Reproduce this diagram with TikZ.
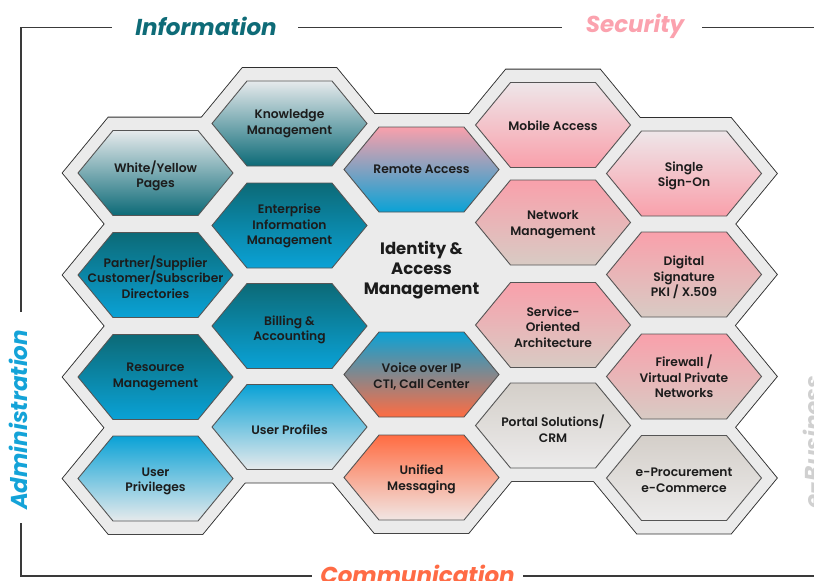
\documentclass[tikz,border=0pt]{standalone}
\usepackage{fontspec}
\setmainfont{Poppins}
\newfontfamily\hexfont{Poppins SemiBold}
\definecolor{teal}{HTML}{0C6A77}
\definecolor{blu}{HTML}{0AA2D6}
\definecolor{lgray}{HTML}{E6EAEC}
\definecolor{pink}{HTML}{F9A0AB}
\definecolor{beige}{HTML}{D8CBC4}
\definecolor{orng}{HTML}{FF6C42}
\definecolor{stone}{HTML}{D4CFC9}
\definecolor{pale}{HTML}{ECEBEB}
\definecolor{palepink}{HTML}{EEE6E9}
\definecolor{paleorng}{HTML}{F1E6E4}
\definecolor{bggray}{HTML}{EBEBEB}
\definecolor{outline}{HTML}{2E2E2E}
\definecolor{hexedge}{HTML}{555555}
\definecolor{txt}{HTML}{1C1C1C}
\definecolor{framecol}{HTML}{3A3A3A}
\definecolor{infocol}{HTML}{0E6B77}
\definecolor{seccol}{HTML}{FBA2AE}
\definecolor{comcol}{HTML}{FF6B45}
\definecolor{admcol}{HTML}{14A3D8}
\definecolor{buscol}{HTML}{D0D0D0}
% [text options]{name}{x}{y}{top colour}{bottom colour}{text}
\newcommand\Hexcell[7][]{%
  \path[hexline, top color=#5, bottom color=#6] (#3,#4) ++(-77.5,0) -- ++(35,-42.5) -- ++(85,0) -- ++(35,42.5) -- ++(-35,42.5) -- ++(-85,0) -- cycle;
  \node[hextext,#1] (#2) at (#3,#4) {#7};}
\begin{document}
\begin{tikzpicture}[x=1pt,y=-1pt,
  hexline/.style={draw=hexedge, line width=0.9pt, line join=miter},
  hextext/.style={align=center, text=txt, font=\hexfont\fontsize{12.3}{15.5}\selectfont, inner sep=0pt},
  titletext/.style={font=\bfseries\itshape\fontsize{23}{23}\selectfont, inner sep=0pt},
  framestroke/.style={draw=framecol, line width=1.1pt}]
\useasboundingbox (0,0) rectangle (814,581);
% frame lines
\draw[framestroke] (21,312) -- (21,27.3) -- (112,27.3);
\draw[framestroke] (298,27.3) -- (562,27.3);
\draw[framestroke] (702,27.3) -- (814,27.3);
\draw[framestroke] (21,523) -- (21,576) -- (312,576);
\draw[framestroke] (523,576) -- (814,576);
% titles
\node[titletext, text=infocol] (info) at (206,26) {Information};
\node[titletext, text=seccol] (sec) at (635,26) {Security};
\node[titletext, text=comcol, anchor=base] (com) at (417.5,583) {Communication};
\node[titletext, text=admcol, anchor=base, rotate=90] (adm) at (27.5,420) {Administration};
\node[titletext, text=buscol, anchor=base, rotate=90] (bus) at (821,442) {e-Business};
% background honeycomb
\def\celllist{155.5/173, 155.5/275, 155.5/377, 155.5/478.5,
  289.5/123.5, 289.5/225.5, 289.5/326, 289.5/427,
  421.5/169.5, 421.5/272, 421.5/374.5, 421.5/477.5,
  553/125, 553/222.5, 553/325, 553/425.5,
  684/173.5, 684/274.5, 684/376.5, 684/478}
\foreach \x/\y in \celllist
  \path[draw=outline, line width=1.8pt, line join=miter] (\x,\y) ++(-92.7,0) -- ++(45.7,-55.5) -- ++(94,0) -- ++(45.7,55.5) -- ++(-45.7,55.5) -- ++(-94,0) -- cycle;
\foreach \x/\y in \celllist
  \path[fill=bggray] (\x,\y) ++(-92.7,0) -- ++(45.7,-55.5) -- ++(94,0) -- ++(45.7,55.5) -- ++(-45.7,55.5) -- ++(-94,0) -- cycle;
% column 1
\Hexcell[yshift=-3pt]{wyp}{155.5}{173}{lgray}{teal}{White/Yellow\\Pages}
\Hexcell[yshift=-2pt]{psd}{155.5}{275}{teal}{blu}{Partner/Supplier\\Customer/Subscriber\\Directories}
\Hexcell{rsm}{155.5}{377}{teal}{blu}{Resource\\Management}
\Hexcell[yshift=-3pt]{upv}{155.5}{478.5}{blu}{lgray}{User\\Privileges}
% column 2
\Hexcell{knm}{289.5}{123.5}{lgray}{teal}{Knowledge\\Management}
\Hexcell[yshift=-0.7pt]{eim}{289.5}{225.5}{teal}{blu}{Enterprise\\Information\\Management}
\Hexcell[yshift=-4pt]{bil}{289.5}{326}{teal}{blu}{Billing \&\\Accounting}
\Hexcell[yshift=-3pt]{upf}{289.5}{427}{blu}{lgray}{User Profiles}
% column 3
\Hexcell{rma}{421.5}{169.5}{pink}{blu}{Remote Access}
\node[align=center, text=txt, font=\bfseries\fontsize{16.5}{20}\selectfont, inner sep=0pt] (iam) at (421.5,270) {Identity \&\\Access\\Management};
\Hexcell[yshift=-2pt]{voip}{421.5}{374.5}{blu}{orng}{Voice over IP\\CTI, Call Center}
\Hexcell[yshift=-2pt]{umsg}{421.5}{477.5}{orng}{paleorng}{Unified\\Messaging}
% column 4
\Hexcell[yshift=-0.7pt]{mob}{553}{125}{palepink}{pink}{Mobile Access}
\Hexcell[yshift=-2.3pt]{net}{553}{222.5}{pink}{beige}{Network\\Management}
\Hexcell[yshift=-2pt]{soa}{553}{325}{pink}{beige}{Service-\\Oriented\\Architecture}
\Hexcell[yshift=-3pt]{crm}{553}{425.5}{stone}{pale}{Portal Solutions/\\CRM}
% column 5
\Hexcell[yshift=-2.3pt]{sso}{684}{173.5}{palepink}{pink}{Single\\Sign-On}
\Hexcell[yshift=-3pt]{dsig}{684}{274.5}{pink}{beige}{Digital\\Signature\\PKI / X.509}
\Hexcell{fw}{684}{376.5}{pink}{beige}{Firewall /\\Virtual Private\\Networks}
\Hexcell[yshift=-2.5pt]{eproc}{684}{478}{stone}{pale}{e-Procurement\\e-Commerce}
\end{tikzpicture}
\end{document}
